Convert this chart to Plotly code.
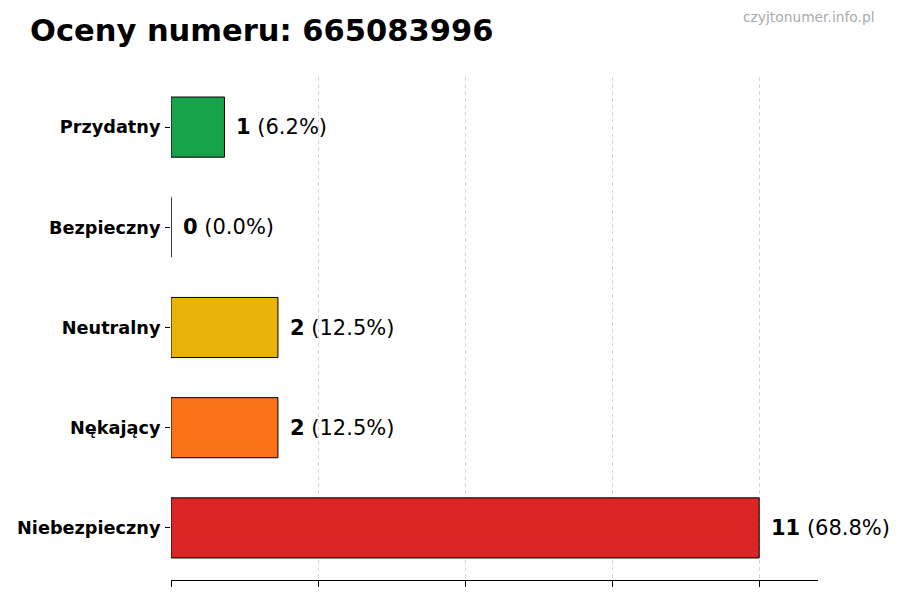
import plotly.graph_objects as go

categories = ["Przydatny", "Bezpieczny", "Neutralny", "Nękający", "Niebezpieczny"]
counts = [1, 0, 2, 2, 11]
colors = ["#16a34a", "#9ca3af", "#eab308", "#f97316", "#dc2626"]
x_ticks = [0, 2.75, 5.5, 8.25, 11]
title_text = "Oceny numeru: 665083996"
watermark = "czyjtonumer.info.pl"

total = sum(counts)
FONT = "DejaVu Sans"

fig = go.Figure()
fig.add_trace(go.Bar(
    x=counts, y=categories, orientation="h", width=0.6,
    marker=dict(color=colors, line=dict(color="#000000", width=1)),
    hoverinfo="skip",
))

for c, v in zip(categories, counts):
    pct = v / total * 100
    fig.add_annotation(
        x=v, y=c, xref="x", yref="y", text=f"<b>{v}</b> ({pct:.1f}%)",
        showarrow=False, xanchor="left", yanchor="middle", xshift=10,
        font=dict(family=FONT, size=21, color="#000000"),
    )

fig.add_annotation(
    xref="x domain", yref="y domain", x=-(171 - 28) / 647, y=1 + (77 - 30) / 503,
    text=f"<b>{title_text}</b>",
    showarrow=False, xanchor="left", yanchor="middle",
    font=dict(family=FONT, size=30.5, color="#000000"),
)
fig.add_annotation(
    xref="x domain", yref="y domain", x=(877 - 171) / 647, y=1 + (77 - 17) / 503,
    text=watermark, showarrow=False, xanchor="right", yanchor="middle",
    font=dict(family=FONT, size=13.8, color="#aaaaaa"),
)

fig.update_layout(
    width=900, height=600,
    margin=dict(l=171, r=82, t=77, b=20),
    paper_bgcolor="white", plot_bgcolor="white",
    showlegend=False,
    xaxis=dict(
        range=[0, 12.1], tickvals=x_ticks, showticklabels=False,
        ticks="outside", ticklen=6, tickcolor="#000000",
        showgrid=True, gridcolor="#d6d6d6", griddash="4px,3px", gridwidth=1,
        showline=True, linecolor="#000000", linewidth=1.2,
        zeroline=False, layer="above traces", fixedrange=True,
    ),
    yaxis=dict(
        categoryorder="array", categoryarray=categories,
        range=[4.52, -0.5], ticks="outside", ticklen=5, tickcolor="#000000",
        ticklabelstandoff=1,
        showline=False, showgrid=False, zeroline=False,
        tickfont=dict(family=FONT, size=17.7, color="#000000", weight="bold"),
        fixedrange=True,
    ),
)

fig.write_html("out.html", config={"displayModeBar": False},
               post_script="document.body.style.margin='0';")
